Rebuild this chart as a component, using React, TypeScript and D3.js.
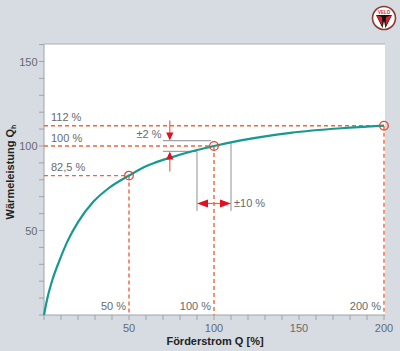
import React from "react";
import * as d3 from "d3";

const flowQ = [0, 2, 5, 9, 14, 20, 29, 38, 50, 60, 65, 74, 90, 100, 115, 145, 175, 200];
const heatQh = [0, 10, 21, 32, 44, 55, 67, 75, 82.5, 88, 90, 93, 97.6, 100, 103.2, 107.8, 110.5, 112];

const markQ = [50, 100, 200];
const markQh = [82.5, 100, 112];
const markLevelLabels = ["82,5 %", "100 %", "112 %"];
const markFlowLabels = ["50 %", "100 %", "200 %"];

const xTickValues = d3.range(0, 201, 10);
const xLabelValues = [50, 100, 150, 200];
const yTickValues = d3.range(0, 161, 10);
const yLabelValues = [50, 100, 150];

// tolerance annotations
const tolFlowLow = 90;
const tolFlowHigh = 110;
const tolFlowLowQh = 96.8;
const tolFlowHighQh = 101.9;
const tolUpper = 103.2;
const tolLower = 96.8;
const tolBandLeftQ = 70;
const tolArrowQ = 74;
const tolVertBottom = 61.5;
const tolHArrowQh = 66;

const W = 400;
const H = 351;
const L = 44, R = 385, T = 44, B = 315;

export default function App() {
  const x = d3.scaleLinear().domain([0, 200]).range([L, 384]);
  const y = d3.scaleLinear().domain([0, 160]).range([B, T + 0.6]);

  const pts: [number, number][] = flowQ.map((q, i) => [q, heatQh[i]]);
  const line = d3
    .line<[number, number]>()
    .x((d) => x(d[0]))
    .y((d) => y(d[1]))
    .curve(d3.curveMonotoneX);

  const gray = "#9ea4a9";
  const txt = "#666a6e";
  const dash = "#f0643c";
  const red = "#e2101e";
  const font = "Liberation Sans, Arial, sans-serif";

  const arrowHeadV = (xp: number, tip: number, dir: number) => {
    // dir: +1 pointing down, -1 pointing up
    const len = 8, hw = 3.6;
    return `M${xp},${tip} L${xp - hw},${tip - dir * len} L${xp + hw},${tip - dir * len} Z`;
  };
  const arrowHeadH = (tipX: number, yp: number, dir: number) => {
    // dir: +1 pointing right, -1 pointing left
    const len = 11, hw = 4;
    return `M${tipX},${yp} L${tipX - dir * len},${yp - hw} L${tipX - dir * len},${yp + hw} Z`;
  };

  return (
    <svg
      width={W}
      height={H}
      style={{ position: "absolute", left: 0, top: 0, fontFamily: font }}
    >
      <rect x={0} y={0} width={W} height={H} fill="#d6dce1" />
      <rect x={L} y={T} width={R - L} height={B - T} fill="#ffffff" />
      <line x1={L} x2={R} y1={T} y2={T} stroke="#a9afb4" strokeWidth={1.2} />
      <line x1={L} x2={L} y1={T} y2={B} stroke={gray} strokeWidth={1} />
      <line x1={L} x2={R} y1={B} y2={B} stroke={gray} strokeWidth={1} />

      {/* y ticks */}
      {yTickValues.map((v) => (
        <line key={"yt" + v} x1={L - 5} x2={L} y1={y(v)} y2={y(v)} stroke={gray} strokeWidth={1} />
      ))}
      {yLabelValues.map((v) => (
        <text key={"yl" + v} x={L - 6.5} y={y(v) + 4} textAnchor="end" fontSize={11} fill={txt}>
          {v}
        </text>
      ))}
      {/* x ticks */}
      {xTickValues.map((v) => (
        <line key={"xt" + v} x1={x(v)} x2={x(v)} y1={B} y2={B + 5} stroke={gray} strokeWidth={1} />
      ))}
      {xLabelValues.map((v) => (
        <text key={"xl" + v} x={x(v)} y={B + 17} textAnchor="middle" fontSize={11} fill={txt}>
          {v}
        </text>
      ))}

      {/* axis titles */}
      <text x={215} y={345} textAnchor="middle" fontSize={11} fontWeight="bold" fill="#222">
        Förderstrom Q [%]
      </text>
      <text
        transform="translate(14,172) rotate(-90)"
        textAnchor="middle"
        fontSize={11}
        fontWeight="bold"
        fill="#222"
      >
        Wärmeleistung Q<tspan fontSize={7} dy={2}>h</tspan>
      </text>

      {/* tolerance grey lines */}
      <line x1={x(tolBandLeftQ)} x2={x(100) - 3} y1={y(tolUpper)} y2={y(tolUpper)} stroke={gray} strokeWidth={1.2} />
      <line x1={x(tolBandLeftQ)} x2={x(tolFlowLow)} y1={y(tolLower)} y2={y(tolLower)} stroke={gray} strokeWidth={1.2} />
      <line x1={x(tolFlowLow)} x2={x(tolFlowLow)} y1={y(tolFlowLowQh)} y2={y(tolVertBottom)} stroke={gray} strokeWidth={1.2} />
      <line x1={x(tolFlowHigh)} x2={x(tolFlowHigh)} y1={y(tolFlowHighQh)} y2={y(tolVertBottom)} stroke={gray} strokeWidth={1.2} />

      {/* dashed reference lines */}
      {markQ.map((q, i) => (
        <g key={"ref" + q}>
          <line
            x1={L}
            x2={x(q)}
            y1={y(markQh[i])}
            y2={y(markQh[i])}
            stroke={dash}
            strokeWidth={1.4}
            strokeDasharray="4,3"
          />
          <line
            x1={x(q)}
            x2={x(q)}
            y1={y(markQh[i])}
            y2={B}
            stroke={dash}
            strokeWidth={1.4}
            strokeDasharray="4,3"
          />
        </g>
      ))}

      {/* curve */}
      <path d={line(pts) || ""} fill="none" stroke="#16998e" strokeWidth={2.2} />

      {/* markers */}
      {markQ.map((q, i) => (
        <circle key={"m" + q} cx={x(q)} cy={y(markQh[i])} r={4.3} fill="none" stroke="#e8452c" strokeWidth={1.3} />
      ))}

      {/* level labels */}
      {markQh.map((v, i) => (
        <text key={"lv" + v} x={51} y={y(v) - 4.5} fontSize={11} fill={txt}>
          {markLevelLabels[i]}
        </text>
      ))}
      {markQ.map((q, i) => (
        <text key={"fl" + q} x={x(q) - 3} y={B - 5} textAnchor="end" fontSize={11} fill={txt}>
          {markFlowLabels[i]}
        </text>
      ))}

      {/* ±2 % arrows */}
      <line x1={x(tolArrowQ)} x2={x(tolArrowQ)} y1={y(tolUpper) - 20} y2={y(tolUpper) - 6} stroke={dash} strokeWidth={1.2} />
      <path d={arrowHeadV(x(tolArrowQ), y(tolUpper), 1)} fill={red} />
      <line x1={x(tolArrowQ)} x2={x(tolArrowQ)} y1={y(tolLower) + 6} y2={y(tolLower) + 20} stroke={dash} strokeWidth={1.2} />
      <path d={arrowHeadV(x(tolArrowQ), y(tolLower), -1)} fill={red} />
      <text x={161.5} y={y(tolUpper) - 3} textAnchor="end" fontSize={11} fill={txt}>
        ±2 %
      </text>

      {/* ±10 % arrows */}
      <line x1={x(tolFlowLow) + 8} x2={x(tolFlowHigh) - 8} y1={y(tolHArrowQh)} y2={y(tolHArrowQh)} stroke={dash} strokeWidth={1.2} />
      <path d={arrowHeadH(x(tolFlowLow), y(tolHArrowQh), -1)} fill={red} />
      <path d={arrowHeadH(x(tolFlowHigh), y(tolHArrowQh), 1)} fill={red} />
      <text x={x(tolFlowHigh) + 3} y={y(tolHArrowQh) + 4} fontSize={11} fill={txt}>
        ±10 %
      </text>

      {/* logo */}
      <g transform="translate(384,18)">
        <circle r={11.5} fill="#ffffff" stroke="#8c3b2c" strokeWidth={1.6} />
        <path d="M-8,-3 L8,-3 L1.5,10 L0,3 L-1.5,10 Z" fill="#111" />
        <path d="M-8,-3 L-2,-1 L-1.5,8 Z" fill="#d8232a" />
        <path d="M8,-3 L2,-1 L1.5,8 Z" fill="#d8232a" />
        <text x={0} y={-4.5} textAnchor="middle" fontSize={4.5} fontWeight="bold" fill="#d8232a">
          VELO
        </text>
      </g>
    </svg>
  );
}
